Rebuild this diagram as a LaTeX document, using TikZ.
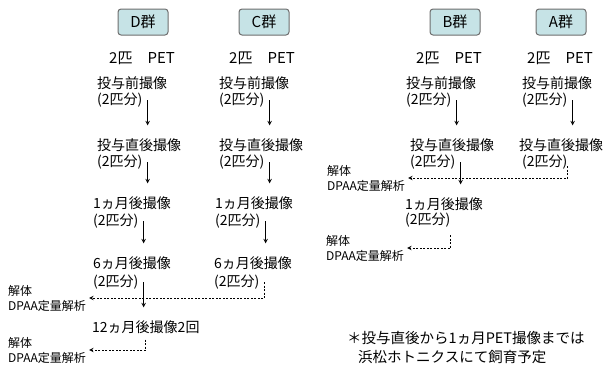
\documentclass[tikz,border=0pt]{standalone}
\usepackage{fontspec}
\setmainfont{Noto Sans CJK JP}
\usepackage{tikz}
\usepackage{xcolor}
\definecolor{grpfill}{HTML}{C6E3E6}
\definecolor{grpline}{HTML}{6E6E6E}

\begin{document}
\begin{tikzpicture}[x=1pt, y=-1pt, >=stealth,
    grp/.style={draw=grpline, line width=1pt, fill=grpfill, rounded corners=3pt, minimum width=50pt, minimum height=26pt, inner sep=0pt, font=\fontsize{15}{17}\selectfont},
    pet/.style={inner sep=0pt, font=\fontsize{15}{17}\selectfont},
    txt/.style={anchor=west, inner sep=0pt, font=\fontsize{14}{16}\selectfont},
    kai/.style={anchor=west, inner sep=0pt, align=left, font=\fontsize{12}{15}\selectfont},
    arr/.style={->, line width=1pt, shorten >=13pt},
    darr/.style={->, line width=1pt, dash pattern=on 2pt off 1.5pt, shorten >=3pt}
]
    \useasboundingbox (0,0) rectangle (604,370);

    % group headers
    \node[grp] (gd) at (143,22) {D群};
    \node[grp] (gc) at (264,22) {C群};
    \node[grp] (gb) at (455,22) {B群};
    \node[grp] (ga) at (561,22) {A群};
    \node[pet] (pd) at (142,58) {2匹\quad PET};
    \node[pet] (pc) at (262,58) {2匹\quad PET};
    \node[pet] (pb) at (449,58) {2匹\quad PET};
    \node[pet] (pa) at (560,58) {2匹\quad PET};

    % D群
    \node[txt] (dpre) at (97,83) {投与前撮像};
    \node[txt] (dpren) at (97,100) {(2匹分)};
    \node[txt] (dpost) at (97,145) {投与直後撮像};
    \node[txt] (dpostn) at (97,162) {(2匹分)};
    \node[txt] (d1m) at (93,203) {1ヵ月後撮像};
    \node[txt] (d1mn) at (93,221) {(2匹分)};
    \node[txt] (d6m) at (93,263) {6ヵ月後撮像};
    \node[txt] (d6mn) at (93,282) {(2匹分)};
    \node[txt] (d12) at (92,327) {12ヵ月後撮像2回};

    % C群
    \node[txt] (cpre) at (219,83) {投与前撮像};
    \node[txt] (cpren) at (219,100) {(2匹分)};
    \node[txt] (cpost) at (219,145) {投与直後撮像};
    \node[txt] (cpostn) at (219,162) {(2匹分)};
    \node[txt] (c1m) at (215,203) {1ヵ月後撮像};
    \node[txt] (c1mn) at (215,221) {(2匹分)};
    \node[txt] (c6m) at (214,263) {6ヵ月後撮像};
    \node[txt] (c6mn) at (214,282) {(2匹分)};

    % B群
    \node[txt] (bpre) at (406,83) {投与前撮像};
    \node[txt] (bpren) at (406,100) {(2匹分)};
    \node[txt] (bpost) at (410,145) {投与直後撮像};
    \node[txt] (bpostn) at (410,162) {(2匹分)};
    \node[txt] (b1m) at (405,204) {1ヵ月後撮像};
    \node[txt] (b1mn) at (405,220) {(2匹分)};

    % A群
    \node[txt] (apre) at (522,83) {投与前撮像};
    \node[txt] (apren) at (522,100) {(2匹分)};
    \node[txt] (apost) at (519,145) {投与直後撮像};
    \node[txt] (apostn) at (522,162) {(2匹分)};

    % 解体
    \node[kai] (kai1) at (8,298) {解体\\DPAA定量解析};
    \node[kai] (kai2) at (8,350) {解体\\DPAA定量解析};
    \node[kai] (kai3) at (327,178) {解体\\DPAA定量解析};
    \node[kai] (kai4) at (326,248) {解体\\DPAA定量解析};

    % arrows
    \draw[arr] ([xshift=5pt]dpren.east) -- ([xshift=5pt]dpren.east |- dpost.north);
    \draw[arr] ([xshift=5pt]dpostn.east) -- ([xshift=5pt]dpostn.east |- d1m.north);
    \draw[arr] ([xshift=5pt]d1mn.east) -- ([xshift=5pt]d1mn.east |- d6m.north);
    \draw[arr] ([xshift=5pt]d6mn.east) -- ([xshift=5pt]d6mn.east |- d12.north);
    \draw[arr] ([xshift=5pt]cpren.east) -- ([xshift=5pt]cpren.east |- cpost.north);
    \draw[arr] ([xshift=5pt]cpostn.east) -- ([xshift=5pt]cpostn.east |- c1m.north);
    \draw[arr] ([xshift=5pt]c1mn.east) -- ([xshift=5pt]c1mn.east |- c6m.north);
    \draw[arr] ([xshift=5pt]bpren.east) -- ([xshift=5pt]bpren.east |- bpost.north);
    \draw[arr] ([xshift=5pt]bpostn.east) -- ([xshift=5pt]bpostn.east |- b1m.north);
    \draw[arr] ([xshift=5pt]apren.east) -- ([xshift=5pt]apren.east |- apost.north);

    % dashed arrows
    \draw[darr] ([xshift=5pt]c6mn.east) |- (kai1.east);
    \draw[darr] ([yshift=-6pt]d12.south) |- (kai2.east);
    \draw[darr] ([yshift=-4pt]apostn.east) |- (kai3.east);
    \draw[darr] ([yshift=-15pt]b1mn.east) |- (kai4.east);

    % note
    \node[inner sep=0pt, anchor=west, font=\fontsize{14.5}{17}\selectfont] (note1) at (347,338) {＊投与直後から1ヵ月PET撮像までは};
    \node[inner sep=0pt, anchor=west, font=\fontsize{14.5}{17}\selectfont] (note2) at (358,357) {浜松ホトニクスにて飼育予定};
\end{tikzpicture}
\end{document}
